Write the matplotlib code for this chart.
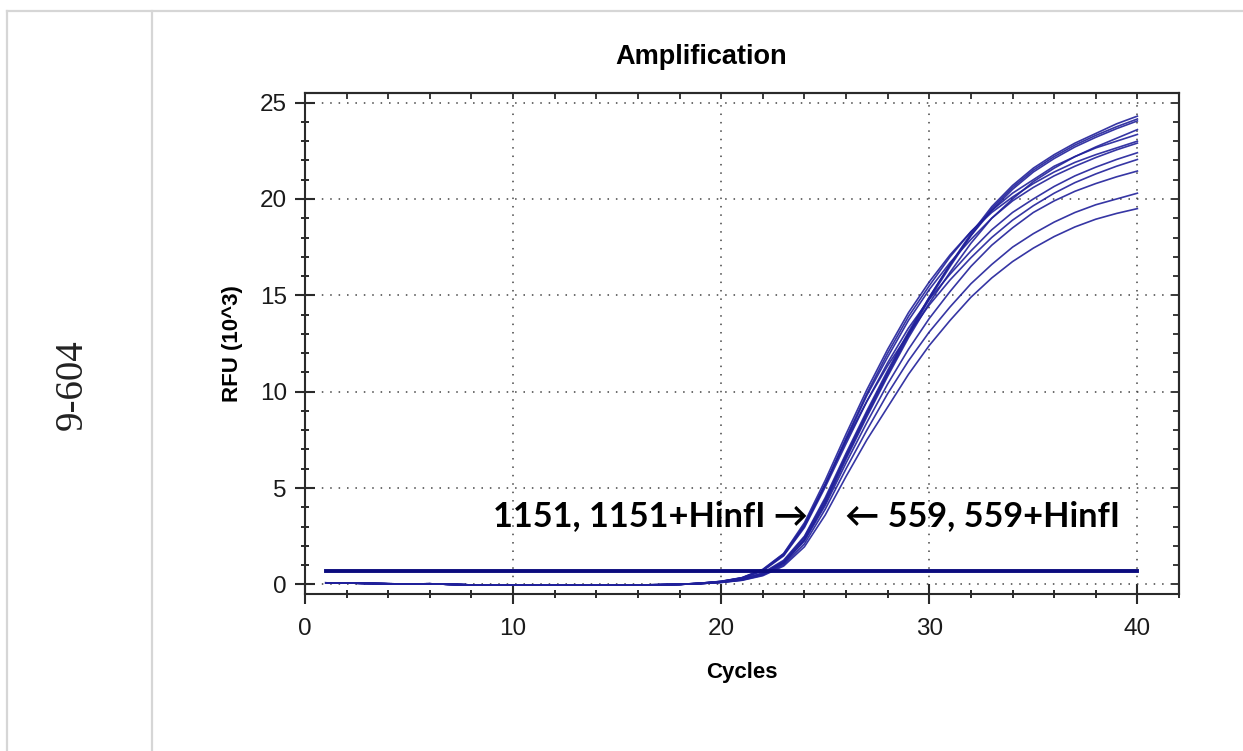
import numpy as np
import matplotlib
matplotlib.use("Agg")
import matplotlib.pyplot as plt
from matplotlib.ticker import MultipleLocator
from matplotlib.lines import Line2D

# ── data ────────────────────────────────────────────────────────────────────
cycles = np.arange(1, 41)

# shared flat baseline for cycles 1..18 (RFU x10^3)
baseline = [0.08, 0.07, 0.05, 0.03, 0.02, 0.03, 0.0, -0.03, -0.04, -0.04,
            -0.04, -0.04, -0.04, -0.04, -0.04, -0.03, -0.02, 0.0]

# cycles 19..40 for each well
# 1151 / 1151+HinfI (earlier bundle)
a1 = [0.06, 0.15, 0.33, 0.74, 1.52, 3.05, 5.2, 7.6, 9.9, 12.0, 13.9, 15.5, 17.0, 18.3, 19.4, 20.3, 21.0, 21.7, 22.2, 22.65, 23.0, 23.35]
a2 = [0.06, 0.16, 0.35, 0.78, 1.6, 3.2, 5.4, 7.8, 10.1, 12.2, 14.1, 15.7, 17.1, 18.3, 19.3, 20.1, 20.8, 21.4, 21.9, 22.3, 22.65, 23.0]
a3 = [0.06, 0.15, 0.33, 0.73, 1.52, 3.02, 5.15, 7.5, 9.8, 11.8, 13.7, 15.3, 16.7, 17.9, 19.0, 19.9, 20.6, 21.2, 21.7, 22.15, 22.55, 22.9]
a4 = [0.05, 0.14, 0.31, 0.7, 1.48, 2.95, 5.05, 7.3, 9.5, 11.5, 13.3, 14.8, 16.1, 17.3, 18.4, 19.3, 20.0, 20.65, 21.2, 21.65, 22.05, 22.4]
a5 = [0.06, 0.15, 0.34, 0.76, 1.58, 3.1, 5.2, 7.45, 9.5, 11.35, 13.0, 14.5, 15.8, 16.95, 18.0, 18.9, 19.65, 20.3, 20.85, 21.3, 21.7, 22.05]
# 559 / 559+HinfI (later bundle)
b1 = [0.04, 0.12, 0.26, 0.56, 1.2, 2.45, 4.4, 6.7, 8.9, 11.0, 13.0, 14.9, 16.6, 18.2, 19.6, 20.7, 21.6, 22.3, 22.9, 23.4, 23.9, 24.3]
b2 = [0.04, 0.12, 0.25, 0.54, 1.15, 2.35, 4.3, 6.6, 8.8, 10.9, 12.9, 14.8, 16.5, 18.1, 19.5, 20.6, 21.5, 22.2, 22.8, 23.3, 23.75, 24.15]
b3 = [0.05, 0.13, 0.28, 0.6, 1.25, 2.5, 4.5, 6.8, 9.0, 11.1, 13.1, 14.9, 16.6, 18.1, 19.4, 20.5, 21.4, 22.1, 22.7, 23.2, 23.65, 24.05]
b4 = [0.04, 0.11, 0.24, 0.52, 1.1, 2.3, 4.2, 6.5, 8.7, 10.8, 12.8, 14.6, 16.2, 17.7, 19.0, 20.0, 20.9, 21.6, 22.2, 22.7, 23.15, 23.6]
b5 = [0.04, 0.11, 0.24, 0.52, 1.1, 2.25, 4.1, 6.3, 8.4, 10.4, 12.2, 13.8, 15.2, 16.5, 17.6, 18.5, 19.3, 19.9, 20.4, 20.8, 21.15, 21.45]
b6 = [0.04, 0.1, 0.22, 0.48, 1.02, 2.1, 3.9, 6.0, 8.0, 9.9, 11.6, 13.1, 14.4, 15.6, 16.6, 17.5, 18.2, 18.8, 19.3, 19.7, 20.0, 20.3]
b7 = [0.04, 0.1, 0.21, 0.45, 0.95, 1.95, 3.6, 5.6, 7.5, 9.2, 10.9, 12.4, 13.7, 14.9, 15.9, 16.75, 17.45, 18.05, 18.55, 18.95, 19.25, 19.5]

wells = [a1, a2, a3, a4, a5, b1, b2, b3, b4, b5, b6, b7]
threshold = 0.68

label_left = "1151, 1151+HinfI \u2192"
label_right = "\u2190 559, 559+HinfI"
row_label = "9-604"

# ── figure ──────────────────────────────────────────────────────────────────
W, H = 1243, 751
fig = plt.figure(figsize=(W / 100, H / 100), dpi=100)

# table cell borders around the chart
border = '#d6d6d6'
fig.add_artist(Line2D([7 / W, 1], [1 - 11 / H, 1 - 11 / H], color=border, lw=1.6))
fig.add_artist(Line2D([7 / W, 7 / W], [0, 1 - 11 / H], color=border, lw=1.6))
fig.add_artist(Line2D([152 / W, 152 / W], [0, 1 - 11 / H], color=border, lw=1.6))
fig.text(72 / W, 1 - 385 / H, row_label, rotation=90, ha='center', va='center',
         fontsize=28, family='Liberation Serif', color='#222222')

ax = fig.add_axes([305 / W, 1 - 594 / H, 874 / W, 501 / H])

line_col = '#20209a'
for w in wells:
    ax.plot(cycles, baseline + w, color=line_col, lw=1.2, alpha=0.9,
            solid_joinstyle='round')
ax.plot([cycles[0], cycles[-1]], [threshold, threshold], color='#0b0b7e', lw=2.8)

ax.set_xlim(0, 42)
ax.set_ylim(-0.5, 25.5)
ax.xaxis.set_major_locator(MultipleLocator(10))
ax.xaxis.set_minor_locator(MultipleLocator(2))
ax.yaxis.set_major_locator(MultipleLocator(5))
ax.yaxis.set_minor_locator(MultipleLocator(1))

spine_col = '#2a2a2a'
for s in ax.spines.values():
    s.set_color(spine_col)
    s.set_linewidth(1.5)

ax.grid(True, which='major', color='#444444', lw=1.1, linestyle=(0, (1, 4.5)))
ax.tick_params(which='major', direction='inout', length=14, width=1.5,
               color=spine_col, labelsize=17.5, labelcolor='#1a1a1a',
               labelfontfamily='Liberation Sans')
ax.tick_params(axis='x', which='major', pad=10)
ax.tick_params(axis='y', which='major', pad=6)
ax.tick_params(which='minor', direction='inout', length=6, width=1.4, color=spine_col)

# top and right get short inward ticks only
top = ax.secondary_xaxis('top')
top.xaxis.set_major_locator(MultipleLocator(10))
top.xaxis.set_minor_locator(MultipleLocator(2))
top.tick_params(which='both', direction='in', length=4, width=1.3, color=spine_col,
                labeltop=False)
right = ax.secondary_yaxis('right')
right.yaxis.set_major_locator(MultipleLocator(5))
right.yaxis.set_minor_locator(MultipleLocator(1))
right.tick_params(which='both', direction='in', length=4, width=1.3, color=spine_col,
                  labelright=False)
right.tick_params(which='major', length=6)
for sec in (top, right):
    for s in sec.spines.values():
        s.set_color(spine_col)
        s.set_linewidth(1.5)

ax.set_xlabel('Cycles', fontsize=16, fontweight='bold', family='Liberation Sans',
              labelpad=16)
ax.set_ylabel('RFU (10^3)', fontsize=16, fontweight='bold', family='Liberation Sans',
              labelpad=12)
fig.text(701 / W, 1 - 57 / H, 'Amplification', ha='center', va='center',
         fontsize=19.5, fontweight='bold', family='Liberation Sans')

ax.text(24.15, 3.55, label_left, ha='right', va='center', fontsize=24.7,
        fontweight='bold', family=['Lato', 'DejaVu Sans'], color='black')
ax.text(25.93, 3.55, label_right, ha='left', va='center', fontsize=24.7,
        fontweight='bold', family=['Lato', 'DejaVu Sans'], color='black')

fig.savefig('out.png', dpi=100)
